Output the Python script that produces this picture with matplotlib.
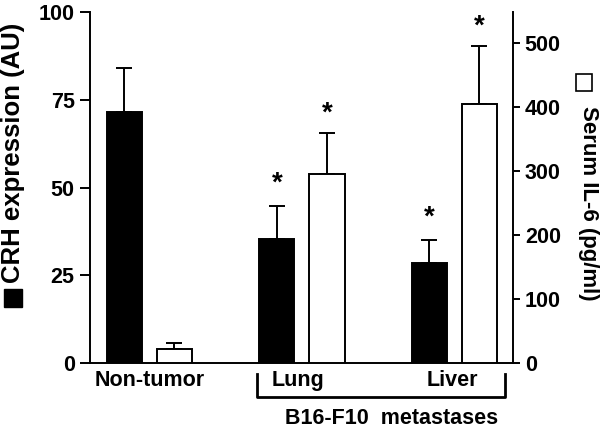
import matplotlib
matplotlib.use("Agg")
import matplotlib.pyplot as plt
import matplotlib.transforms as mtransforms
from matplotlib.patches import Rectangle
import numpy as np

plt.rcParams['font.family'] = ['Liberation Sans', 'DejaVu Sans']
plt.rcParams['font.weight'] = 'bold'

groups = ["Non-tumor", "Lung", "Liver"]
crh = [71.5, 35.3, 28.5]
crh_err = [12.5, 9.4, 6.5]
il6 = [22, 295, 405]
il6_err = [9, 64, 90]
crh_sig = [False, True, True]
il6_sig = [False, True, True]

W, H = 600, 429
fig = plt.figure(figsize=(6, 4.29), dpi=100)
ax1 = fig.add_axes([90/W, 1-363/H, 423/W, 351/H])
ax2 = ax1.twinx()

x = np.arange(len(groups))
w = 0.23
off = 0.164
lw = 1.4

ax1.bar(x - off, crh, width=w, color='black', edgecolor='black', linewidth=lw, zorder=2)
ax1.errorbar(x - off, crh, yerr=[np.zeros(3), crh_err], fmt='none', ecolor='black',
             elinewidth=lw, capsize=6, capthick=lw, zorder=1)
ax2.bar(x + off, il6, width=w, color='white', edgecolor='black', linewidth=lw, zorder=2)
ax2.errorbar(x + off, il6, yerr=[np.zeros(3), il6_err], fmt='none', ecolor='black',
             elinewidth=lw, capsize=6, capthick=lw, zorder=1)

for xi, v, e, s in zip(x - off, crh, crh_err, crh_sig):
    if s:
        ax1.annotate('*', (xi, v + e), xytext=(0, 16), textcoords='offset points',
                     ha='center', va='center', fontsize=20, fontweight='bold')
for xi, v, e, s in zip(x + off, il6, il6_err, il6_sig):
    if s:
        ax2.annotate('*', (xi, v + e), xytext=(0, 14), textcoords='offset points',
                     ha='center', va='center', fontsize=20, fontweight='bold')

ax1.set_xlim(-0.39, 2.384)
ax1.set_ylim(0, 100)
ax2.set_ylim(0, 548)
ax1.set_yticks([0, 25, 50, 75, 100])
ax2.set_yticks([0, 100, 200, 300, 400, 500])
ax1.set_xticks([])

for ax in (ax1, ax2):
    ax.spines['top'].set_visible(False)
    for s in ax.spines.values():
        s.set_linewidth(lw)
ax1.spines['right'].set_visible(False)
ax2.spines['left'].set_visible(False)
ax2.spines['bottom'].set_visible(False)

ax1.tick_params(axis='y', length=7.5, width=lw, pad=3.5, labelsize=15.5)
ax2.tick_params(axis='y', length=5, width=lw, pad=3.5, labelsize=15.5)

# axis titles with legend squares
fig.text(13/W, 1-283/H, 'CRH expression (AU)', rotation=90, rotation_mode='anchor',
         ha='left', va='center', fontsize=18.5, fontweight='bold')
fig.patches.append(Rectangle(((13-9)/W, 1-307/H), 18/W, 18/H, transform=fig.transFigure,
                             facecolor='black', edgecolor='black', lw=1))
fig.text(589/W, 1-106/H, 'Serum IL-6 (pg/ml)', rotation=270, rotation_mode='anchor',
         ha='left', va='center', fontsize=16, fontweight='bold')
fig.patches.append(Rectangle(((584-8)/W, 1-91/H), 16/W, 17/H, transform=fig.transFigure,
                             facecolor='white', edgecolor='black', lw=1.2))

trans = mtransforms.blended_transform_factory(ax1.transData, ax1.transAxes)
ax1.text(x[0], -0.051, groups[0], transform=trans, ha='center', va='center', fontsize=15.5)
ax1.text(0.803, -0.051, groups[1], transform=trans, ha='left', va='center', fontsize=15.5)
ax1.text(2.154, -0.051, groups[2], transform=trans, ha='right', va='center', fontsize=15.5)
ax1.plot([0.705, 0.705, 2.331, 2.331], [-0.03, -0.097, -0.097, -0.03], transform=trans,
         color='black', lw=2, clip_on=False)
ax1.text(1.59, -0.157, 'B16-F10  metastases', transform=trans, ha='center', va='center',
         fontsize=15.5)

fig.savefig('out.png', dpi=100)
